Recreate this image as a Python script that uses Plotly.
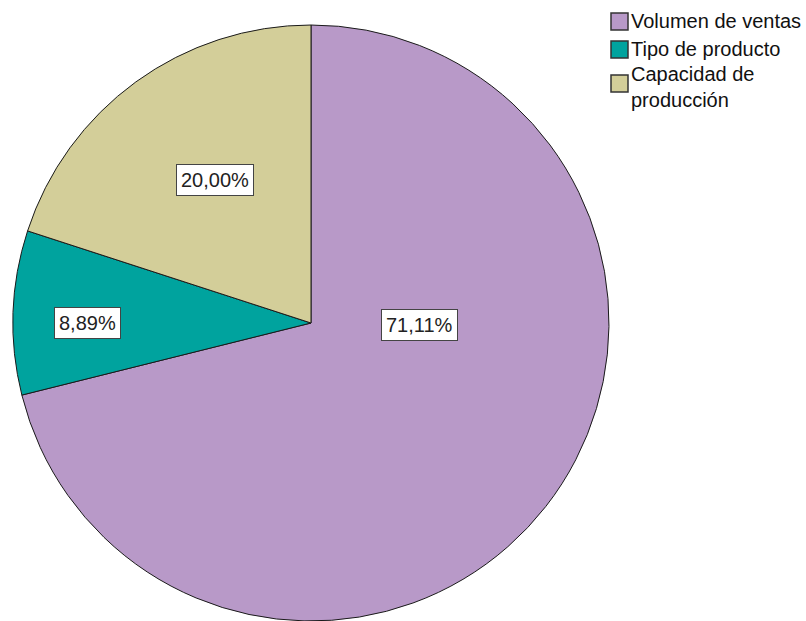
import math
import plotly.graph_objects as go

# Survey responses (n = 45)
categories = ["Volumen de ventas", "Tipo de producto", "Capacidad de producción"]
legend_text = ["Volumen de ventas", "Tipo de producto", "Capacidad de<br>producción"]
counts = [32, 4, 9]
colors = ["#B899C8", "#00A39E", "#D3CE99"]

W, H = 806, 621
# pie placement in pixels
PIE_LEFT, PIE_TOP, PIE_SIZE = 13, 25, 596
FONT = "Liberation Sans, Arial, sans-serif"
FS = 20

# label placement per slice: (angle clockwise from 12 o'clock, fraction of radius)
label_polar = [(91, 0.365), (270, 0.75), (326, 0.577)]


def px(x):
    return x / W


def py(y):
    return 1 - y / H


total = sum(counts)
pct = [c / total * 100 for c in counts]

fig = go.Figure(
    go.Pie(
        labels=categories,
        values=counts,
        sort=False,
        direction="clockwise",
        rotation=0,
        marker=dict(colors=colors, line=dict(color="#1a1a1a", width=1)),
        textinfo="none",
        hoverinfo="label+percent",
        showlegend=False,
        domain=dict(x=[px(PIE_LEFT), px(PIE_LEFT + PIE_SIZE)],
                    y=[py(PIE_TOP + PIE_SIZE), py(PIE_TOP)]),
    )
)

cx = PIE_LEFT + PIE_SIZE / 2
cy = PIE_TOP + PIE_SIZE / 2
r = PIE_SIZE / 2

annotations = []
for p, (ang, frac) in zip(pct, label_polar):
    a = math.radians(ang)
    lx = cx + frac * r * math.sin(a)
    ly = cy - frac * r * math.cos(a)
    annotations.append(dict(
        x=px(lx), y=py(ly), xref="paper", yref="paper",
        text=f"{p:.2f}%".replace(".", ","),
        showarrow=False, xanchor="center", yanchor="middle",
        font=dict(family=FONT, size=FS, color="#222222"),
        bgcolor="white", bordercolor="#444444", borderwidth=1, borderpad=4,
    ))

# legend: swatch + text
shapes = []
leg_x = 611
leg_rows = [(13, 21), (41, 49), (75, 87)]  # (swatch top, text center)
for name, col, (top, tc) in zip(legend_text, colors, leg_rows):
    shapes.append(dict(
        type="rect", xref="paper", yref="paper",
        x0=px(leg_x), x1=px(leg_x + 17), y0=py(top + 17), y1=py(top),
        fillcolor=col, line=dict(color="#333333", width=1.5),
    ))
    annotations.append(dict(
        x=px(leg_x + 18), y=py(tc), xref="paper", yref="paper",
        text=name, showarrow=False, xanchor="left", yanchor="middle",
        align="left",
        font=dict(family=FONT, size=FS, color="#111111"),
    ))

fig.update_layout(
    width=W, height=H,
    margin=dict(l=0, r=0, t=0, b=0),
    paper_bgcolor="white", plot_bgcolor="white",
    annotations=annotations, shapes=shapes,
)

fig.write_html("out.html")
